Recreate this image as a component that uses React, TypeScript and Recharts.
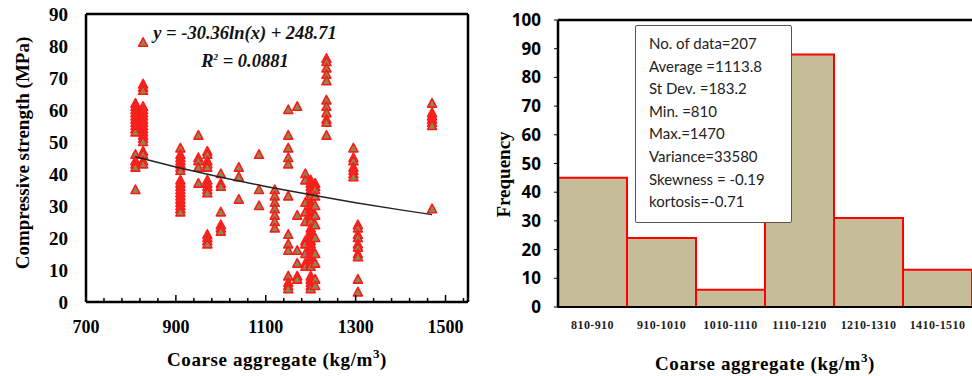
import { ScatterChart, Scatter, BarChart, Bar, XAxis, YAxis, ReferenceLine } from "recharts";

// compressive strength columns (x = coarse aggregate kg/m3)
const col810 = [62, 61, 60, 59, 58, 57, 56, 55, 54, 53, 46, 44, 43, 42, 35];
const col827 = [81, 68, 67, 66, 61, 60, 59, 58, 57, 56, 55, 54, 53, 52, 51, 50, 47, 46, 44, 43];
const col910 = [48, 46, 45, 44, 43, 42, 41, 38, 37, 36, 35, 34, 33, 32, 31, 30, 29, 28];
const col950 = [52, 45, 44, 42, 37];
const col970 = [47, 46, 44, 43, 42, 38, 37, 36, 35, 34, 21, 20, 19, 18];
const col1000 = [40, 37, 36, 28, 24, 23, 22];
const col1040 = [42, 39, 32];
const col1085 = [46, 35, 30];
const col1120 = [35, 33, 31, 29, 27, 25, 23];
const col1150 = [60, 52, 48, 45, 43, 33, 21, 18, 16, 8, 6, 5, 4];
const col1170 = [61, 27, 16, 12, 8, 7];
const col1188 = [40, 38, 31, 28, 25, 19, 18, 15, 12, 11];
const col1200 = [38, 37, 36, 35, 34, 33, 31, 30, 29, 28, 27, 26, 25, 23, 22, 21, 20, 19, 18, 17, 16, 15, 14, 13, 12, 11, 8, 7, 6, 5, 4];
const col1210 = [37, 36, 35, 33, 30, 27, 24, 20, 15, 12, 7, 5];
const col1235 = [76, 75, 73, 71, 69, 63, 61, 59, 57, 56, 52];
const col1295 = [48, 45, 44, 42, 41, 40, 39];
const col1305 = [24, 23, 21, 20, 18, 17, 15, 14, 7, 3];
const col1470 = [62, 59, 58, 57, 56, 55, 29];

const columns: [number, number[]][] = [
  [810, col810], [827, col827], [910, col910], [950, col950], [970, col970],
  [1000, col1000], [1040, col1040], [1085, col1085], [1120, col1120], [1150, col1150],
  [1170, col1170], [1188, col1188], [1200, col1200], [1210, col1210], [1235, col1235],
  [1295, col1295], [1305, col1305], [1470, col1470],
];

// log trend line, read at a few x positions
const trendX = [810, 900, 1000, 1100, 1200, 1300, 1400, 1470];
const trendY = [45.4, 42.2, 39.0, 36.1, 33.5, 31.0, 28.8, 27.3];

const xTicks = [700, 740, 780, 820, 860, 900, 940, 980, 1020, 1060, 1100, 1140, 1180, 1220, 1260, 1300, 1340, 1380, 1420, 1460, 1500, 1540];
const xLabels = [700, 900, 1100, 1300, 1500];
const yTicks = [0, 10, 20, 30, 40, 50, 60, 70, 80, 90];

// histogram
const bins = ["810-910", "910-1010", "1010-1110", "1110-1210", "1210-1310", "1410-1510"];
const freq = [45, 24, 6, 88, 31, 13];
const freqTicks = [0, 10, 20, 30, 40, 50, 60, 70, 80, 90, 100];

const stats = [
  "No. of data=207",
  "Average =1113.8",
  "St Dev. =183.2",
  "Min. =810",
  "Max.=1470",
  "Variance=33580",
  "Skewness = -0.19",
  "kortosis=-0.71",
];

const points = columns.flatMap(([x, ys]) => ys.map((y) => ({ x, y })));
const trend = trendX.map((x, i) => ({ x, y: trendY[i] }));
const histData = bins.map((bin, i) => ({ bin, freq: freq[i] }));

const serif = "'Liberation Serif', 'Times New Roman', serif";
const sans = "'Open Sans', 'Noto Sans', sans-serif";

const Triangle = ({ cx, cy }: any) => (
  <polygon
    points={`${cx},${cy - 5} ${cx + 4.5},${cy + 3.5} ${cx - 4.5},${cy + 3.5}`}
    fill="#8a8a4e"
    stroke="#ff1a1a"
    strokeWidth={1.6}
    strokeLinejoin="round"
  />
);

const XTick = ({ x, y, payload }: any) => {
  const major = xLabels.includes(payload.value);
  return (
    <g>
      <line x1={x} x2={x} y1={y} y2={y - (major ? 7 : 4)} stroke="#000" strokeWidth={1.5} />
      {major && (
        <text x={x} y={y + 31} textAnchor="middle" fontFamily={serif} fontWeight="bold" fontSize={18} fill="#000">
          {payload.value}
        </text>
      )}
    </g>
  );
};

const YTitle = ({ viewBox, text, dx, dy }: any) => {
  const x = viewBox.x + dx;
  const y = viewBox.y + viewBox.height / 2 + dy;
  return (
    <text
      x={x}
      y={y}
      transform={`rotate(-90, ${x}, ${y})`}
      textAnchor="middle"
      dominantBaseline="central"
      fontFamily={serif}
      fontWeight="bold"
      fontSize={19}
      fill="#000"
    >
      {text}
    </text>
  );
};

const XTitle = ({ viewBox, dy }: any) => (
  <text
    x={viewBox.x + viewBox.width / 2}
    y={viewBox.y + dy}
    textAnchor="middle"
    dominantBaseline="central"
    fontFamily={serif}
    fontWeight="bold"
    fontSize={19}
    letterSpacing={0.6}
    fill="#000"
  >
    Coarse aggregate (kg/m
    <tspan fontSize={13} dy={-6}>3</tspan>
    <tspan dy={6}>)</tspan>
  </text>
);

function StrengthScatter() {
  return (
    <div style={{ position: "absolute", left: 0, top: 0, width: 490, height: 376 }}>
      <ScatterChart width={490} height={376} margin={{ top: 14, right: 22, bottom: 24, left: 26 }}>
        <XAxis
          type="number"
          dataKey="x"
          domain={[700, 1550]}
          ticks={xTicks}
          interval={0}
          height={50}
          tickSize={0}
          tickMargin={0}
          tickLine={false}
          tick={<XTick />}
          axisLine={{ stroke: "#000", strokeWidth: 2.5 }}
          label={<XTitle dy={57} />}
        />
        <YAxis
          type="number"
          dataKey="y"
          domain={[0, 90]}
          ticks={yTicks}
          interval={0}
          width={60}
          tickSize={0}
          tickMargin={18}
          tickLine={false}
          tick={{ fontFamily: serif, fontWeight: "bold", fontSize: 19, fill: "#000" }}
          axisLine={{ stroke: "#000", strokeWidth: 2.5 }}
          label={<YTitle text="Compressive strength (MPa)" dx={-4} dy={-5} />}
        />
        <ReferenceLine y={90} stroke="#000" strokeWidth={2.5} />
        <ReferenceLine x={1550} stroke="#000" strokeWidth={2.5} />
        <Scatter data={points} shape={<Triangle />} isAnimationActive={false} />
        <Scatter
          data={trend}
          line={{ stroke: "#222", strokeWidth: 1.4 }}
          shape={() => <g />}
          isAnimationActive={false}
        />
      </ScatterChart>
      <div
        style={{
          position: "absolute",
          left: 135,
          top: 21,
          width: 220,
          textAlign: "center",
          fontFamily: serif,
          fontWeight: "bold",
          fontStyle: "italic",
          fontSize: 18.5,
          lineHeight: "24px",
          color: "#111",
        }}
      >
        <div>y = -30.36ln(x) + 248.71</div>
        <div>
          R<sup style={{ fontSize: 9 }}>2</sup> = 0.0881
        </div>
      </div>
    </div>
  );
}

function FrequencyHistogram() {
  return (
    <div style={{ position: "absolute", left: 490, top: 0, width: 482, height: 376 }}>
      <BarChart
        width={482}
        height={376}
        data={histData}
        margin={{ top: 20, right: 0, bottom: 19, left: 18 }}
        barCategoryGap={0}
      >
        <XAxis
          dataKey="bin"
          height={50}
          interval={0}
          tickLine={false}
          tickSize={0}
          tickMargin={13}
          tick={{ fontFamily: serif, fontWeight: "bold", fontSize: 12, fill: "#222", letterSpacing: 0.4 }}
          axisLine={{ stroke: "#000", strokeWidth: 2 }}
          label={<XTitle dy={56} />}
        />
        <YAxis
          domain={[0, 100]}
          ticks={freqTicks}
          interval={0}
          width={50}
          tickSize={4}
          tickMargin={13}
          tickLine={{ stroke: "#000" }}
          tick={{ fontFamily: sans, fontWeight: "bold", fontSize: 17, fill: "#000" }}
          axisLine={{ stroke: "#000", strokeWidth: 2.5 }}
          label={<YTitle text="Frequency" dx={-5} dy={11} />}
        />
        <ReferenceLine y={100} stroke="#000" strokeWidth={2.5} />
        <Bar dataKey="freq" fill="#c5bd98" stroke="#ff0000" strokeWidth={2} isAnimationActive={false} />
      </BarChart>
      <div
        style={{
          position: "absolute",
          left: 145,
          top: 25,
          width: 157,
          height: 198,
          boxSizing: "border-box",
          background: "#fff",
          border: "1.5px solid #555",
          borderRadius: 2,
          padding: "6px 0 0 13px",
          fontFamily: "Lato, sans-serif",
          fontSize: 15,
          lineHeight: "22.6px",
          color: "#222",
        }}
      >
        {stats.map((s) => (
          <div key={s}>{s}</div>
        ))}
      </div>
    </div>
  );
}

export default function App() {
  return (
    <div style={{ position: "absolute", left: 0, top: 0, width: 972, height: 376, background: "#fff" }}>
      <StrengthScatter />
      <FrequencyHistogram />
    </div>
  );
}
